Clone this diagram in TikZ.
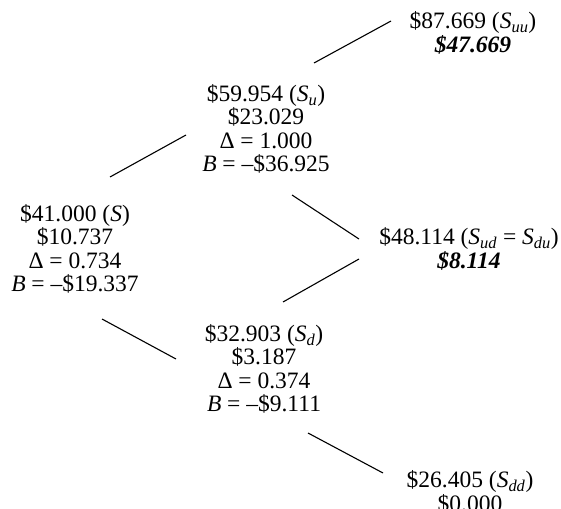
\documentclass[tikz,border=0pt]{standalone}
\usepackage{fontspec}
\setmainfont{Liberation Serif}
\newcommand{\Sub}[1]{\textit{S}\textsubscript{\textit{#1}}}
\begin{document}
\begin{tikzpicture}[x=1pt,y=-1pt,
  lbl/.style={align=center,inner sep=0pt,font=\fontsize{23.5}{23.3}\selectfont},
  edge/.style={draw,line width=1.1pt}]
\useasboundingbox (0,0) rectangle (561,508);
\node[lbl] (S) at (75,249) {\$41.000 (\textit{S})\\ \$10.737\\ Δ = 0.734\\ \textit{B} = –\$19.337};
\node[lbl] (Su) at (266,129) {\$59.954 (\Sub{u})\\ \$23.029\\ Δ = 1.000\\ \textit{B} = –\$36.925};
\node[lbl] (Sd) at (264,369) {\$32.903 (\Sub{d})\\ \$3.187\\ Δ = 0.374\\ \textit{B} = –\$9.111};
\node[lbl] (Suu) at (473,33) {\$87.669 (\Sub{uu})\\ \textbf{\textit{\$47.669}}};
\node[lbl] (Sud) at (469,249) {\$48.114 (\Sub{ud} = \Sub{du})\\ \textbf{\textit{\$8.114}}};
\node[lbl] (Sdd) at (470,492) {\$26.405 (\Sub{dd})\\ \$0.000};
\coordinate (a1) at (110,177); \coordinate (a2) at (186,135);
\coordinate (b1) at (102,319); \coordinate (b2) at (176,359);
\coordinate (c1) at (292,195); \coordinate (c2) at (359,239);
\coordinate (d1) at (283,302); \coordinate (d2) at (359,259);
\coordinate (e1) at (314,63);  \coordinate (e2) at (391,21);
\coordinate (f1) at (308,433); \coordinate (f2) at (383,473);
\path[edge] (a1) -- (a2);
\path[edge] (b1) -- (b2);
\path[edge] (c1) -- (c2);
\path[edge] (d1) -- (d2);
\path[edge] (e1) -- (e2);
\path[edge] (f1) -- (f2);
\end{tikzpicture}
\end{document}
